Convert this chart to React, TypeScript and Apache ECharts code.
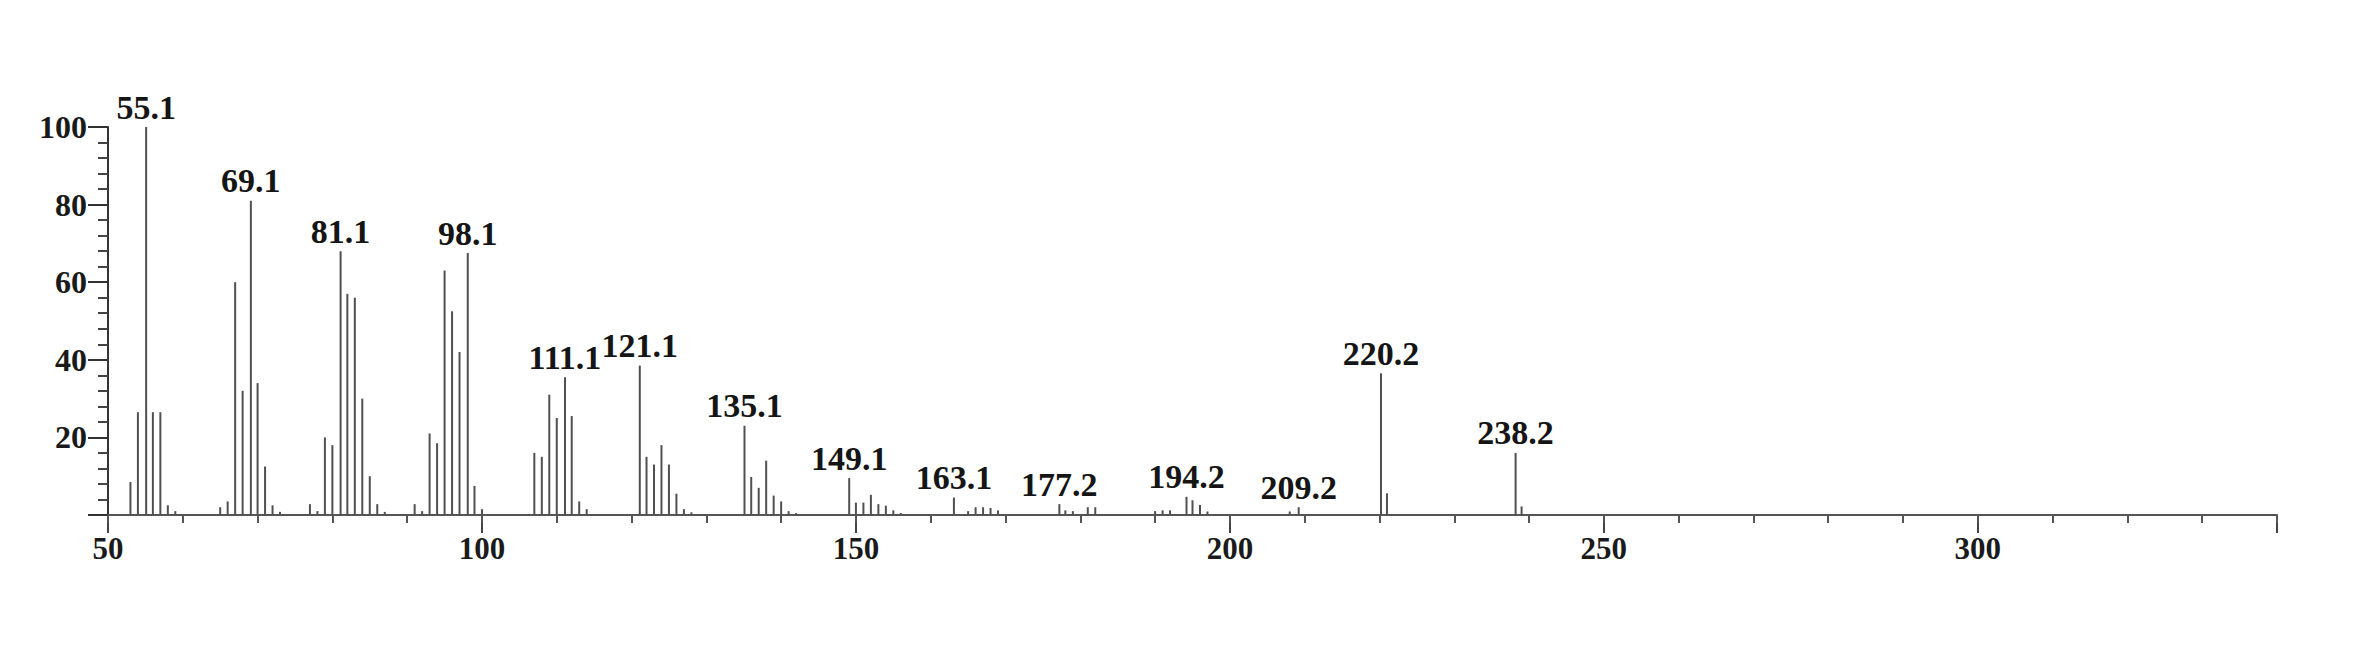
import React, { useEffect, useRef } from 'react';
import * as echarts from 'echarts';

// m/z of each peak
const mzValues = [
  53, 54, 55.1, 56, 57, 58, 59,
  65, 66, 67, 68, 69.1, 70, 71, 72, 73,
  77, 78, 79, 80, 81.1, 82, 83, 84, 85, 86, 87,
  91, 92, 93, 94, 95, 96, 97, 98.1, 99, 100,
  107, 108, 109, 110, 111.1, 112, 113, 114,
  121.1, 122, 123, 124, 125, 126, 127, 128,
  135.1, 136, 137, 138, 139, 140, 141, 142,
  149.1, 150, 151, 152, 153, 154, 155, 156,
  163.1, 165, 166, 167, 168, 169,
  177.2, 178, 179, 181, 182,
  190, 191, 192, 194.2, 195, 196, 197,
  208, 209.2,
  220.2, 221,
  238.2, 239,
];

// relative abundance (%) of each peak
const intensities = [
  8.5, 26.5, 100, 26.5, 26.5, 2.5, 1,
  2, 3.5, 60, 32, 81, 34, 12.5, 2.5, 0.8,
  2.8, 1, 20, 18, 68, 57, 56, 30, 10, 2.8, 0.8,
  2.8, 1, 21, 18.5, 63, 52.5, 42, 67.5, 7.5, 1.5,
  16, 15, 31, 25, 35.5, 25.5, 3.5, 1.5,
  38.5, 15, 13, 18, 13, 5.5, 1.5, 0.7,
  23, 9.8, 7, 14, 5, 3.5, 1, 0.5,
  9.5, 3.2, 3.2, 5.2, 2.8, 2.4, 1.2, 0.5,
  4.5, 1, 2, 2, 1.8, 1.2,
  2.8, 1.2, 1, 2, 2,
  1, 1.2, 1.2, 4.7, 3.8, 2.6, 0.9,
  0.9, 2,
  36.5, 5.6,
  16, 2.2,
];

// peaks carrying an m/z annotation
const labeledPeaks = [55.1, 69.1, 81.1, 98.1, 111.1, 121.1, 135.1, 149.1, 163.1, 177.2, 194.2, 209.2, 220.2, 238.2];

const xTickLabels = [50, 100, 150, 200, 250, 300];
const yTickLabels = [20, 40, 60, 80, 100];

const FONT = '"Liberation Serif", "DejaVu Serif", serif';

export default function App() {
  const ref = useRef<HTMLDivElement>(null);

  useEffect(() => {
    document.body.style.margin = '0';
    const chart = echarts.init(ref.current as HTMLDivElement, null, { renderer: 'svg' });

    const data = mzValues.map((mz, i) =>
      labeledPeaks.includes(mz)
        ? { value: [mz, intensities[i]], label: { show: true } }
        : { value: [mz, intensities[i]] }
    );

    chart.setOption({
      animation: false,
      backgroundColor: '#ffffff',
      grid: { left: 108, right: 95, top: 127, bottom: 149, containLabel: false },
      xAxis: [
        {
          type: 'value',
          min: 50,
          max: 340,
          interval: 50,
          position: 'bottom',
          axisLine: { show: true, lineStyle: { color: '#555', width: 2 } },
          axisTick: { show: true, length: 18, inside: false, lineStyle: { color: '#444', width: 2 } },
          minorTick: { show: false },
          splitLine: { show: false },
          axisLabel: {
            margin: 18,
            fontFamily: FONT,
            fontWeight: 'bold',
            fontSize: 31,
            color: '#1a1a1a',
            formatter: (v: number) => (xTickLabels.includes(v) ? String(v) : ''),
          },
        },
        {
          type: 'value',
          min: 50,
          max: 340,
          interval: 10,
          position: 'bottom',
          axisLine: { show: false },
          axisTick: { show: true, length: 8, inside: false, lineStyle: { color: '#555', width: 2 } },
          splitLine: { show: false },
          axisLabel: { show: false },
        },
      ],
      yAxis: {
        type: 'value',
        min: 0,
        max: 100,
        interval: 20,
        axisLine: { show: true, lineStyle: { color: '#333', width: 2 } },
        axisTick: { show: true, length: 20, lineStyle: { color: '#333', width: 2 } },
        minorTick: { show: true, splitNumber: 5, length: 10, lineStyle: { color: '#444', width: 2 } },
        splitLine: { show: false },
        axisLabel: {
          margin: 21,
          fontFamily: FONT,
          fontWeight: 'bold',
          fontSize: 32,
          color: '#1a1a1a',
          formatter: (v: number) => (yTickLabels.includes(v) ? String(v) : ''),
        },
      },
      series: [
        {
          type: 'bar',
          xAxisIndex: 0,
          yAxisIndex: 0,
          barWidth: 2,
          itemStyle: { color: '#505050' },
          label: {
            show: false,
            position: 'top',
            distance: 3,
            fontFamily: FONT,
            fontWeight: 'bold',
            fontSize: 34,
            color: '#151515',
            formatter: (p: any) => Number(p.value[0]).toFixed(1),
          },
          data,
        },
      ],
    });

    return () => chart.dispose();
  }, []);

  return (
    <div
      ref={ref}
      style={{ position: 'absolute', left: 0, top: 0, width: 2372, height: 664, background: '#fff' }}
    />
  );
}
